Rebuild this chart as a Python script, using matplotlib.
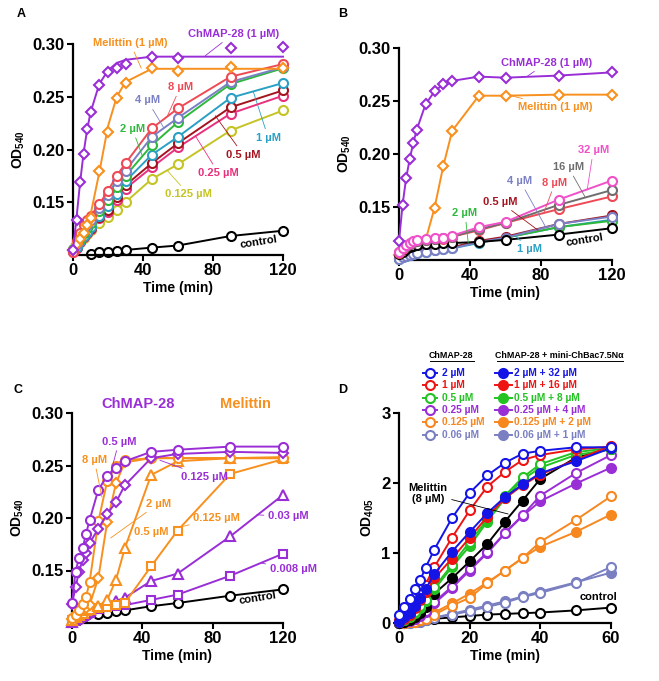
import matplotlib
matplotlib.use('Agg')
import matplotlib.pyplot as plt
from matplotlib.lines import Line2D

plt.rcParams['font.family'] = ['Liberation Sans', 'DejaVu Sans']
plt.rcParams['font.weight'] = 'bold'
plt.rcParams['mathtext.fontset'] = 'custom'
plt.rcParams['mathtext.rm'] = 'Liberation Sans:bold'

# ---------------- data -----------------
# panel A / B / C time points (min)
t_abc = [0, 2, 4, 6, 8, 10, 15, 20, 25, 30, 45, 60, 90, 120]

# A
chmap_A = [0.105, 0.133, 0.169, 0.196, 0.219, 0.236, 0.261, 0.273, 0.277, 0.281, 0.288, 0.287, 0.296, 0.2975]
chmap_A_fit = [0.105, 0.135, 0.168, 0.196, 0.218, 0.235, 0.262, 0.275, 0.282, 0.285, 0.288, 0.288, 0.288, 0.288]
mel_A = [0.105, 0.110, 0.115, 0.121, 0.128, 0.135, 0.180, 0.217, 0.249, 0.263, 0.277, 0.274, 0.278, 0.277]
mel_A_fit = [0.105, 0.109, 0.114, 0.120, 0.127, 0.138, 0.178, 0.222, 0.250, 0.264, 0.2765, 0.2765, 0.2765, 0.2765]
a_8 = [0.103, 0.113, 0.121, 0.128, 0.133, 0.137, 0.148, 0.161, 0.175, 0.187, 0.220, 0.239, 0.269, 0.281]
a_4 = [0.104, 0.110, 0.117, 0.123, 0.128, 0.133, 0.145, 0.157, 0.170, 0.180, 0.212, 0.230, 0.264, 0.278]
a_2 = [0.106, 0.110, 0.115, 0.121, 0.126, 0.130, 0.142, 0.152, 0.164, 0.175, 0.204, 0.226, 0.262, 0.277]
a_1 = [0.104, 0.108, 0.113, 0.118, 0.122, 0.127, 0.137, 0.146, 0.158, 0.170, 0.195, 0.212, 0.249, 0.263]
a_05 = [0.104, 0.108, 0.113, 0.118, 0.122, 0.126, 0.136, 0.143, 0.155, 0.166, 0.187, 0.206, 0.240, 0.256]
a_025 = [0.103, 0.107, 0.112, 0.117, 0.121, 0.125, 0.135, 0.141, 0.152, 0.163, 0.183, 0.202, 0.234, 0.251]
a_0125 = [0.105, 0.108, 0.112, 0.116, 0.120, 0.124, 0.130, 0.136, 0.143, 0.150, 0.172, 0.186, 0.218, 0.237]
t_ctrl_A = [10, 15, 20, 25, 30, 45, 60, 90, 120]
ctrl_A = [0.1006, 0.1025, 0.1032, 0.1041, 0.1048, 0.107, 0.109, 0.118, 0.123]

# B
chmap_B = [0.118, 0.152, 0.177, 0.195, 0.210, 0.223, 0.247, 0.259, 0.266, 0.269, 0.273, 0.272, 0.274, 0.277]
mel_B = [0.105, 0.107, 0.109, 0.111, 0.113, 0.115, 0.119, 0.149, 0.189, 0.222, 0.255, 0.255, 0.256, 0.256]
b_32 = [0.108, 0.111, 0.114, 0.116, 0.118, 0.119, 0.120, 0.121, 0.121, 0.123, 0.131, 0.136, 0.157, 0.175]
b_16 = [0.108, 0.111, 0.113, 0.115, 0.117, 0.118, 0.119, 0.120, 0.121, 0.122, 0.129, 0.135, 0.152, 0.166]
b_8 = [0.107, 0.110, 0.113, 0.115, 0.117, 0.118, 0.119, 0.120, 0.120, 0.122, 0.128, 0.135, 0.148, 0.160]
b_4 = [0.101, 0.103, 0.104, 0.105, 0.106, 0.107, 0.108, 0.109, 0.110, 0.111, 0.117, 0.121, 0.134, 0.141]
b_05 = [0.102, 0.104, 0.105, 0.106, 0.107, 0.108, 0.109, 0.110, 0.111, 0.112, 0.118, 0.122, 0.134, 0.142]
b_2 = [0.102, 0.104, 0.105, 0.106, 0.107, 0.108, 0.109, 0.110, 0.111, 0.112, 0.117, 0.121, 0.131, 0.137]
b_1 = [0.101, 0.103, 0.104, 0.105, 0.106, 0.107, 0.108, 0.109, 0.110, 0.111, 0.116, 0.121, 0.131, 0.138]
ctrl_B = [0.106, 0.108, 0.110, 0.112, 0.113, 0.114, 0.115, 0.115, 0.116, 0.116, 0.117, 0.119, 0.124, 0.130]

# C
c_ch05 = [0.119, 0.149, 0.162, 0.171, 0.185, 0.198, 0.227, 0.240, 0.248, 0.254, 0.263, 0.265, 0.268, 0.268]
c_ch0125 = [0.118, 0.134, 0.149, 0.160, 0.167, 0.176, 0.190, 0.204, 0.215, 0.231, 0.257, 0.261, 0.263, 0.262]
c_ch003 = [0.101, 0.104, 0.106, 0.108, 0.110, 0.112, 0.114, 0.118, 0.121, 0.124, 0.140, 0.147, 0.1825, 0.222]
c_ch0008 = [0.100, 0.102, 0.104, 0.106, 0.108, 0.110, 0.113, 0.115, 0.116, 0.117, 0.122, 0.127, 0.145, 0.166]
c_me8 = [0.105, 0.108, 0.112, 0.118, 0.125, 0.139, 0.197, 0.235, 0.250, 0.255, 0.257, 0.257, 0.257, 0.257]
c_me2 = [0.104, 0.107, 0.110, 0.112, 0.114, 0.117, 0.143, 0.196, 0.233, 0.253, 0.257, 0.257, 0.257, 0.257]
c_me05 = [0.103, 0.106, 0.108, 0.110, 0.112, 0.113, 0.116, 0.122, 0.141, 0.171, 0.241, 0.254, 0.257, 0.258]
c_me0125 = [0.103, 0.106, 0.108, 0.110, 0.111, 0.112, 0.114, 0.115, 0.117, 0.119, 0.154, 0.188, 0.242, 0.256]
t_ctrl_C = [15, 20, 25, 30, 45, 60, 90, 120]
ctrl_C = [0.109, 0.110, 0.111, 0.112, 0.116, 0.119, 0.126, 0.132]

# D
t_D = [0, 1.5, 3, 4.5, 6, 7.5, 10, 15, 20, 25, 30, 35, 40, 50, 60]
d_blue_o = [0.11, 0.23, 0.34, 0.48, 0.61, 0.79, 1.05, 1.50, 1.86, 2.11, 2.29, 2.42, 2.46, 2.51, 2.51]
d_blue_f = [0.02, 0.08, 0.15, 0.25, 0.36, 0.48, 0.70, 1.02, 1.30, 1.57, 1.80, 1.98, 2.14, 2.31, 2.50]
d_red_o = [0.05, 0.12, 0.20, 0.30, 0.42, 0.55, 0.80, 1.22, 1.61, 1.95, 2.16, 2.33, 2.40, 2.48, 2.52]
d_red_f = [0.02, 0.06, 0.12, 0.22, 0.33, 0.45, 0.64, 0.92, 1.22, 1.52, 1.78, 1.97, 2.12, 2.33, 2.53]
d_green_o = [0.02, 0.05, 0.10, 0.16, 0.24, 0.33, 0.51, 0.83, 1.16, 1.48, 1.82, 2.08, 2.27, 2.44, 2.50]
d_green_f = [0.02, 0.04, 0.09, 0.15, 0.22, 0.31, 0.48, 0.80, 1.10, 1.45, 1.78, 2.05, 2.22, 2.40, 2.48]
d_mel = [0.00, 0.02, 0.05, 0.09, 0.15, 0.23, 0.42, 0.64, 0.88, 1.13, 1.45, 1.75, 2.06, 2.36, 2.49]
d_purple_o = [0.00, 0.02, 0.04, 0.07, 0.11, 0.17, 0.30, 0.52, 0.77, 1.01, 1.29, 1.54, 1.82, 2.14, 2.40]
d_purple_f = [0.00, 0.02, 0.03, 0.06, 0.10, 0.16, 0.28, 0.50, 0.75, 1.00, 1.28, 1.53, 1.74, 1.99, 2.22]
d_orange_o = [0.00, 0.00, 0.01, 0.02, 0.04, 0.06, 0.12, 0.25, 0.36, 0.57, 0.75, 0.93, 1.16, 1.47, 1.81]
d_orange_f = [0.00, 0.00, 0.01, 0.03, 0.05, 0.08, 0.15, 0.28, 0.42, 0.58, 0.75, 0.93, 1.09, 1.30, 1.55]
d_lav_o = [0.00, 0.00, 0.00, 0.01, 0.02, 0.04, 0.07, 0.12, 0.17, 0.23, 0.29, 0.37, 0.43, 0.57, 0.80]
d_lav_f = [0.00, 0.00, 0.00, 0.01, 0.02, 0.04, 0.08, 0.13, 0.19, 0.25, 0.31, 0.38, 0.45, 0.58, 0.72]
d_ctrl = [0.00, 0.00, 0.01, 0.02, 0.03, 0.04, 0.06, 0.08, 0.10, 0.12, 0.13, 0.14, 0.15, 0.18, 0.22]

legend_left = ['2 µM', '1 µM', '0.5 µM', '0.25 µM', '0.125 µM', '0.06 µM']
legend_right = ['2 µM + 32 µM', '1 µM + 16 µM', '0.5 µM + 8 µM', '0.25 µM + 4 µM',
                '0.125 µM + 2 µM', '0.06 µM + 1 µM']

# colours
PURPLE = '#9a2ed6'
ORANGE = '#f7901e'
RED8 = '#ee4a55'
LAV = '#7b7fc4'
GREEN = '#2eb83c'
TEAL = '#2aa0c4'
DRED = '#a3141f'
PINK = '#e8307c'
OLIVE = '#c4c424'
GRAY = '#6e6e6e'
MAGENTA = '#f050c8'
D_COLS = ['#1414e6', '#ee1414', '#22c322', '#9a2ed6', '#f7871f', '#7a7fc2']

W, H = 659, 681
fig = plt.figure(figsize=(W / 100, H / 100), dpi=100)


def px_axes(l, r, t, b):
    return fig.add_axes([l / W, 1 - b / H, (r - l) / W, (b - t) / H])


def style(ax, xlim, ylim, xt, yt, ylab, yfmt):
    for s in ['top', 'right']:
        ax.spines[s].set_visible(False)
    for s in ['left', 'bottom']:
        ax.spines[s].set_linewidth(1.6)
    ax.set_xlim(xlim)
    ax.set_ylim(ylim)
    ax.set_xticks(xt)
    ax.set_yticks(yt)
    ax.set_yticklabels([yfmt.format(v) for v in yt])
    ax.tick_params(direction='out', length=4, width=1.5, labelsize=12, pad=2)
    for lab in ax.get_xticklabels() + ax.get_yticklabels():
        lab.set_fontweight('bold')
    ax.set_xlabel('Time (min)', fontsize=10, fontweight='bold', labelpad=2)
    ax.set_ylabel(ylab, fontsize=10, fontweight='bold', labelpad=4)


def series(ax, x, y, color, marker, fill=False, fit=None, ms=6.5, z=3):
    ax.plot(x, fit if fit is not None else y, color=color, lw=1.4, zorder=z, clip_on=False)
    ax.plot(x, y, ls='none', marker=marker, ms=ms, mec=color,
            mfc=color if fill else 'white', mew=1.5, zorder=z + 0.5, clip_on=False)


def note(ax, text, xytext, color, xy=None, fs=8, rot=0):
    if xy is None:
        ax.text(xytext[0], xytext[1], text, color=color, fontsize=fs, fontweight='bold',
                ha='center', va='center', rotation=rot, zorder=20)
    else:
        ax.annotate(text, xy=xy, xytext=xytext, color=color, fontsize=fs, fontweight='bold',
                    ha='center', va='center', annotation_clip=False, zorder=20,
                    arrowprops=dict(arrowstyle='-', color=color, lw=0.6, shrinkA=1, shrinkB=0))


# ---------------- A ----------------
axA = px_axes(73, 283, 44, 255)
series(axA, t_ctrl_A, ctrl_A, 'black', 'o', z=2)
series(axA, t_abc, a_0125, OLIVE, 'o', z=3)
series(axA, t_abc, a_025, PINK, 'o', z=4)
series(axA, t_abc, a_05, DRED, 'o', z=5)
series(axA, t_abc, a_1, TEAL, 'o', z=6)
series(axA, t_abc, a_2, GREEN, 'o', z=7)
series(axA, t_abc, a_4, LAV, 'o', z=8)
series(axA, t_abc, a_8, RED8, 'o', z=9)
series(axA, t_abc, mel_A, ORANGE, 'D', fit=mel_A_fit, ms=5, z=10)
series(axA, t_abc, chmap_A, PURPLE, 'D', fit=chmap_A_fit, ms=5, z=11)
style(axA, (0, 120), (0.1, 0.3), [0, 40, 80, 120], [0.15, 0.20, 0.25, 0.30],
      'OD$_{540}$', '{:.2f}')
note(axA, 'Melittin (1 µM)', (32.7, 0.301), ORANGE, xy=(39, 0.277))
note(axA, 'ChMAP-28 (1 µM)', (91.6, 0.3096), PURPLE, xy=(75.6, 0.2889))
note(axA, '8 µM', (61.3, 0.259), RED8, xy=(54, 0.232))
note(axA, '4 µM', (42.5, 0.2465), LAV, xy=(51.7, 0.221))
note(axA, '2 µM', (33.9, 0.2197), GREEN, xy=(39.6, 0.194))
note(axA, '1 µM', (111.6, 0.211), TEAL, xy=(103, 0.255))
note(axA, '0.5 µM', (97.3, 0.195), DRED, xy=(81.3, 0.232))
note(axA, '0.25 µM', (83.1, 0.1777), PINK, xy=(69.9, 0.213))
note(axA, '0.125 µM', (66, 0.1576), OLIVE, xy=(53.9, 0.18))
note(axA, 'control', (106, 0.1127), 'black', rot=9)

# ---------------- B ----------------
axB = px_axes(399, 612, 48, 260)
series(axB, t_abc, mel_B, ORANGE, 'D', ms=5, z=2)
series(axB, t_abc, b_1, TEAL, 'o', z=3)
series(axB, t_abc, b_2, GREEN, 'o', z=4)
series(axB, t_abc, b_05, DRED, 'o', z=5)
series(axB, t_abc, b_4, LAV, 'o', z=6)
series(axB, t_abc, ctrl_B, 'black', 'o', z=7)
series(axB, t_abc, b_8, RED8, 'o', z=8)
series(axB, t_abc, b_16, GRAY, 'o', z=9)
series(axB, t_abc, b_32, MAGENTA, 'o', z=10)
series(axB, t_abc, chmap_B, PURPLE, 'D', ms=5, z=11)
style(axB, (0, 120), (0.1, 0.3), [0, 40, 80, 120], [0.15, 0.20, 0.25, 0.30],
      'OD$_{540}$', '{:.2f}')
note(axB, 'ChMAP-28 (1 µM)', (83.2, 0.286), PURPLE, xy=(72, 0.273))
note(axB, 'Melittin (1 µM)', (87.9, 0.2446), ORANGE, xy=(63, 0.255))
note(axB, '32 µM', (109.5, 0.2035), MAGENTA, xy=(106, 0.166))
note(axB, '16 µM', (95.4, 0.1876), GRAY, xy=(105, 0.159))
note(axB, '8 µM', (87.9, 0.1729), RED8, xy=(81.7, 0.145))
note(axB, '4 µM', (68.2, 0.1746), LAV, xy=(83, 0.130))
note(axB, '0.5 µM', (56.9, 0.1548), DRED, xy=(78.4, 0.128))
note(axB, '2 µM', (37.2, 0.1443), GREEN, xy=(39, 0.116))
note(axB, '1 µM', (73.8, 0.1102), TEAL, xy=(66, 0.122))
note(axB, 'control', (104.8, 0.1191), 'black', rot=9)

# ---------------- C ----------------
axC = px_axes(72, 283, 413, 623)
series(axC, t_ctrl_C, ctrl_C, 'black', 'o', z=2)
series(axC, t_abc, c_ch0008, PURPLE, 's', ms=6, z=3)
series(axC, t_abc, c_ch003, PURPLE, '^', ms=6.5, z=4)
series(axC, t_abc, c_me0125, ORANGE, 's', ms=6, z=5)
series(axC, t_abc, c_me05, ORANGE, '^', ms=6.5, z=6)
series(axC, t_abc, c_me2, ORANGE, 'D', ms=5, z=7)
series(axC, t_abc, c_me8, ORANGE, 'o', z=8)
series(axC, t_abc, c_ch0125, PURPLE, 'D', ms=5, z=9)
series(axC, t_abc, c_ch05, PURPLE, 'o', z=10)
style(axC, (0, 120), (0.1, 0.3), [0, 40, 80, 120], [0.15, 0.20, 0.25, 0.30],
      'OD$_{540}$', '{:.2f}')
note(axC, 'ChMAP-28', (37.7, 0.309), PURPLE, fs=10.5)
note(axC, 'Melittin', (98.8, 0.309), ORANGE, fs=10.5)
note(axC, '0.5 µM', (26.7, 0.2728), PURPLE, xy=(22, 0.243))
note(axC, '8 µM', (12.7, 0.2554), ORANGE, xy=(17, 0.22))
note(axC, '0.125 µM', (75.6, 0.2395), PURPLE, xy=(50, 0.255))
note(axC, '2 µM', (49.1, 0.2136), ORANGE, xy=(22, 0.181))
note(axC, '0.5 µM', (45.3, 0.1867), ORANGE, xy=(31, 0.178))
note(axC, '0.125 µM', (82.3, 0.2), ORANGE, xy=(63, 0.192))
note(axC, '0.03 µM', (123, 0.2015), PURPLE, xy=(105, 0.203))
note(axC, '0.008 µM', (125.8, 0.151), PURPLE, xy=(108, 0.157))
note(axC, 'control', (105.9, 0.124), 'black', rot=9)

# ---------------- D ----------------
axD = px_axes(399, 611, 413, 623)
d_open = [d_blue_o, d_red_o, d_green_o, d_purple_o, d_orange_o, d_lav_o]
d_fill = [d_blue_f, d_red_f, d_green_f, d_purple_f, d_orange_f, d_lav_f]
series(axD, t_D, d_ctrl, 'black', 'o', z=2)
z = 3
for k in range(5, -1, -1):
    series(axD, t_D, d_fill[k], D_COLS[k], 'o', fill=True, z=z)
    series(axD, t_D, d_open[k], D_COLS[k], 'o', z=z + 1)
    z += 2
    if k == 3:
        series(axD, t_D, d_mel, 'black', 'o', fill=True, z=z)
        z += 1
style(axD, (0, 60), (0, 3), [0, 20, 40, 60], [0, 1, 2, 3], 'OD$_{405}$', '{:d}')
note(axD, 'Melittin\n(8 µM)', (8.2, 1.85), 'black', xy=(30.9, 1.557))
note(axD, 'control', (56.4, 0.376), 'black')

# legend of panel D, drawn in figure pixels
def fx(p):
    return p / W


def fy(p):
    return 1 - p / H


rows_y = [372.7, 385, 397.7, 410, 422.3, 435]
for k, yy in enumerate(rows_y):
    col = D_COLS[k]
    fig.add_artist(Line2D([fx(423), fx(437)], [fy(yy), fy(yy)], color=col, lw=1.4))
    fig.add_artist(Line2D([fx(430)], [fy(yy)], marker='o', ms=6.5, mec=col, mfc='white', mew=1.5))
    fig.text(fx(441.5), fy(yy), legend_left[k], color=col, fontsize=7.4, fontweight='bold',
             ha='left', va='center')
    fig.add_artist(Line2D([fx(495), fx(512)], [fy(yy), fy(yy)], color=col, lw=1.4))
    fig.add_artist(Line2D([fx(503.3)], [fy(yy)], marker='o', ms=6.5, mec=col, mfc=col, mew=1.5))
    fig.text(fx(513.5), fy(yy), legend_right[k], color=col, fontsize=7.4, fontweight='bold',
             ha='left', va='center')

fig.text(fx(451.3), fy(355), 'ChMAP-28', fontsize=6.4, fontweight='bold', ha='center', va='center')
fig.text(fx(559.7), fy(355), 'ChMAP-28 + mini-ChBac7.5Nα', fontsize=6.4, fontweight='bold',
         ha='center', va='center')
fig.add_artist(Line2D([fx(429.5), fx(473.5)], [fy(360.5), fy(360.5)], color='black', lw=0.7))
fig.add_artist(Line2D([fx(496.5), fx(623)], [fy(360.5), fy(360.5)], color='black', lw=0.7))

# panel letters
for letter, (px, py) in zip('ABCD', [(21, 14), (343, 14), (18, 390), (343, 390)]):
    fig.text(fx(px), fy(py), letter, fontsize=9, fontweight='bold', ha='center', va='center')

fig.savefig('out.png', dpi=100)
